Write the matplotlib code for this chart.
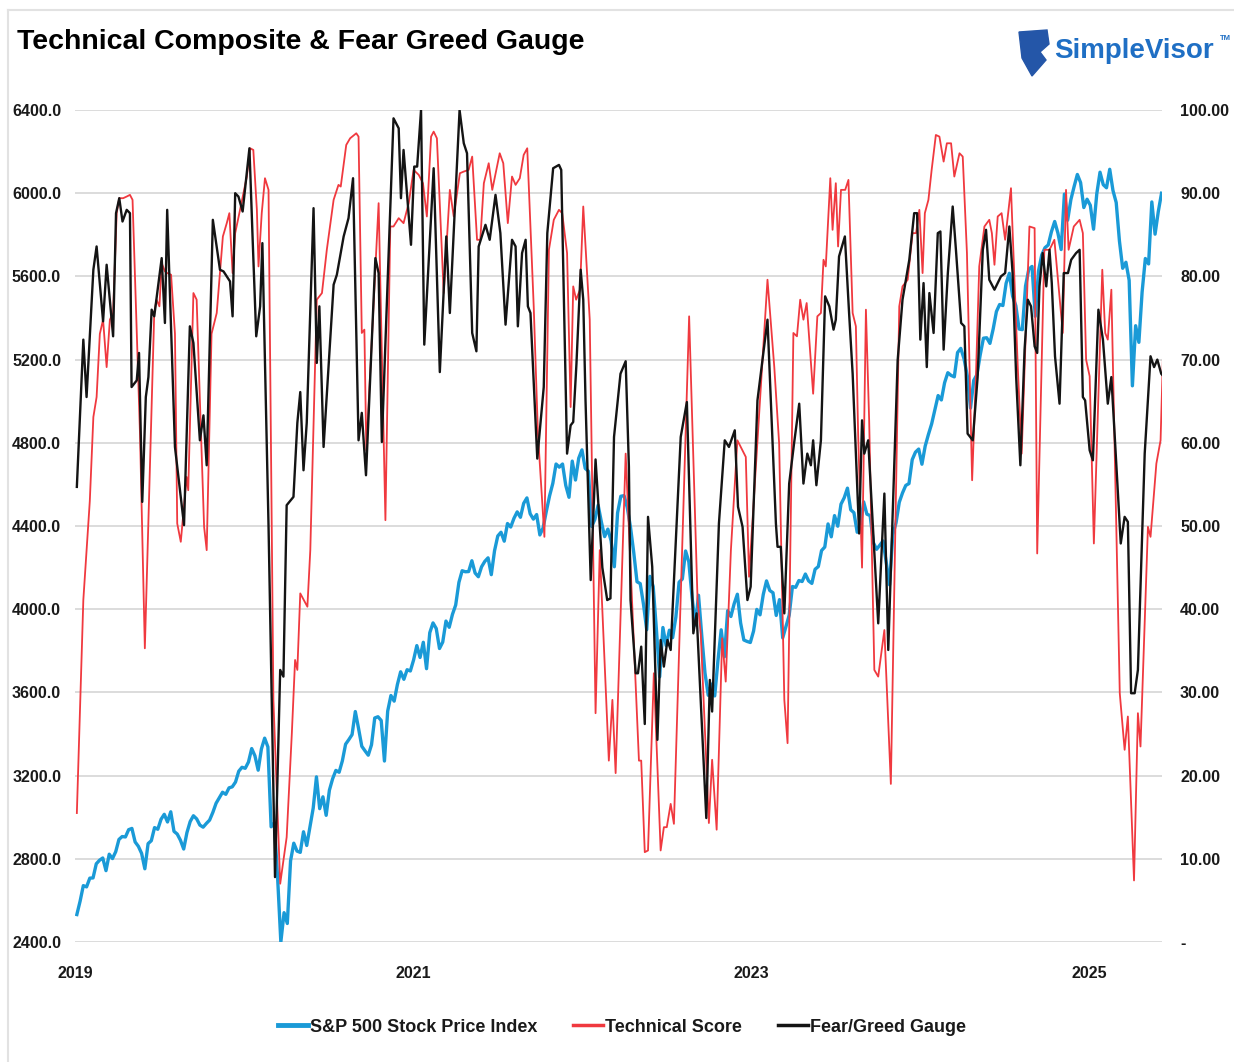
import matplotlib
matplotlib.use("Agg")
import matplotlib.pyplot as plt
from matplotlib.lines import Line2D
from matplotlib.patches import Polygon
import numpy as np
import pandas as pd

plt.rcParams["font.family"] = ["Liberation Sans", "DejaVu Sans"]

# S&P 500 weekly closes, first week ending 2019-01-04
spx = [
    2532, 2596, 2671, 2665, 2707, 2708, 2776, 2793, 2804, 2743, 2822, 2801, 2834,
    2893, 2907, 2905, 2940, 2946, 2881, 2860, 2826, 2752, 2873, 2887, 2950, 2942,
    2990, 3014, 2977, 3026, 2932, 2919, 2889, 2847, 2926, 2979, 3007, 2992, 2962,
    2952, 2970, 2986, 3023, 3067, 3093, 3120, 3110, 3141, 3146, 3169, 3221, 3240,
    # 2020
    3235, 3265, 3330, 3295, 3226, 3328, 3380, 3338, 2954, 2972, 2711, 2400, 2541,
    2489, 2790, 2875, 2837, 2831, 2930, 2864, 2955, 3044, 3194, 3041, 3098, 3009,
    3130, 3185, 3225, 3216, 3271, 3351, 3373, 3397, 3508, 3427, 3341, 3319, 3298,
    3348, 3477, 3483, 3465, 3270, 3510, 3585, 3558, 3638, 3699, 3663, 3709, 3703, 3756,
    # 2021
    3825, 3768, 3841, 3714, 3887, 3934, 3907, 3811, 3842, 3943, 3913, 3975, 4020,
    4129, 4185, 4180, 4181, 4233, 4174, 4156, 4204, 4230, 4247, 4166, 4281, 4352,
    4370, 4327, 4412, 4395, 4437, 4468, 4442, 4509, 4535, 4459, 4433, 4455, 4357,
    4391, 4471, 4545, 4605, 4698, 4683, 4698, 4595, 4538, 4712, 4621, 4726, 4766,
    # 2022
    4677, 4663, 4398, 4432, 4500, 4419, 4349, 4385, 4329, 4204, 4463, 4543, 4546,
    4488, 4393, 4272, 4132, 4123, 4024, 3901, 4158, 4109, 3901, 3675, 3912, 3825,
    3899, 3863, 3962, 4130, 4145, 4280, 4228, 4058, 3924, 4067, 3873, 3693, 3586,
    3640, 3583, 3753, 3901, 3771, 3993, 3965, 4026, 4072, 3934, 3852, 3845, 3840,
    # 2023
    3895, 3999, 3973, 4071, 4136, 4090, 4079, 3970, 4046, 3862, 3917, 3971, 4109,
    4105, 4138, 4133, 4169, 4136, 4124, 4192, 4205, 4282, 4299, 4410, 4348, 4450,
    4399, 4505, 4536, 4582, 4478, 4464, 4370, 4406, 4516, 4457, 4450, 4320, 4288,
    4308, 4328, 4224, 4117, 4358, 4415, 4514, 4559, 4595, 4604, 4719, 4755, 4770,
    # 2024
    4697, 4784, 4840, 4891, 4959, 5027, 5006, 5089, 5137, 5124, 5117, 5234, 5254,
    5204, 5123, 4967, 5100, 5128, 5223, 5303, 5305, 5278, 5347, 5431, 5465, 5460,
    5567, 5615, 5505, 5459, 5347, 5344, 5554, 5634, 5648, 5408, 5626, 5703, 5738,
    5751, 5815, 5864, 5808, 5729, 5996, 5870, 5969, 6032, 6090, 6051, 5931, 5971,
    # 2025
    5942, 5827, 5997, 6101, 6041, 6026, 6115, 6013, 5955, 5770, 5639, 5668, 5581,
    5074, 5363, 5283, 5525, 5686, 5660, 5958, 5803, 5912, 6000,
]

# Technical Score: (weeks since 2019-01-04, score)
tech_points = [
    (0, 15.5), (2.0, 41.1), (4.0, 53.0), (5.1, 63.1), (6.1, 65.5), (7.1, 73.1), (8.1, 74.8),
    (9.2, 69.1), (10.2, 74.8), (11.2, 75.6), (12.3, 87.6), (13.1, 89.4), (14.3, 89.4),
    (15.4, 89.6), (16.4, 89.8), (17.2, 89.2), (19.5, 61.1), (21.0, 35.3), (23.9, 75.6),
    (24.6, 77.2), (25.5, 76.4), (26.2, 81.6), (27.2, 80.6), (27.9, 80.4), (29.1, 80.2),
    (30.3, 73.1), (31.0, 50.3), (32.1, 48.1), (33.9, 55.9), (34.4, 54.3), (36.0, 78.0),
    (37.0, 77.2), (38.0, 65.1), (39.3, 49.9), (40.1, 47.1), (41.6, 73.1), (43.2, 75.6),
    (45.1, 84.8), (46.3, 86.4), (47.1, 87.6), (48.1, 80.4), (48.9, 85.2), (50.4, 88.0),
    (52.5, 92.0), (53.5, 95.4), (54.5, 95.2), (55.6, 88.0), (56.1, 81.2), (57.1, 87.6),
    (58.1, 91.8), (59.2, 90.4), (60.7, 29.1), (62.8, 7.0), (64.8, 12.6), (66.4, 25.1),
    (67.4, 33.9), (68.1, 32.7), (69.0, 41.9), (71.2, 40.3), (72.1, 47.1), (74.1, 77.2),
    (75.7, 78.0), (77.2, 83.2), (79.3, 89.2), (80.8, 91.0), (81.5, 90.8), (83.2, 95.8),
    (84.4, 96.6), (86.3, 97.2), (87.0, 96.8), (88.0, 73.2), (88.8, 73.6), (89.4, 59.1),
    (93.2, 88.8), (95.3, 50.7), (96.8, 86.0), (97.8, 86.0), (99.4, 87.0), (100.9, 86.4),
    (102.5, 88.8), (104.0, 92.8), (105.6, 92.2), (106.9, 91.2), (108.1, 87.2), (109.4, 96.8),
    (110.2, 97.4), (111.2, 96.6), (113.3, 78.0), (115.2, 90.4), (116.4, 87.2), (118.3, 92.4),
    (119.5, 92.6), (121.0, 92.8), (122.1, 94.4), (123.6, 84.4), (124.6, 84.4), (125.7, 91.2),
    (127.2, 93.6), (128.3, 90.4), (130.6, 94.8), (131.7, 93.6), (133.1, 86.4), (134.4, 92.0),
    (135.5, 91.0), (136.8, 91.8), (138.0, 94.6), (139.1, 95.4), (141.1, 76.4), (142.4, 61.1),
    (144.4, 48.7), (145.8, 83.2), (147.3, 86.8), (148.9, 88.0), (149.9, 87.6), (151.4, 82.8),
    (152.5, 64.3), (153.3, 78.8), (154.2, 77.2), (155.4, 78.4), (156.4, 88.4), (158.4, 74.8),
    (160.2, 27.5), (161.5, 47.1), (164.3, 21.8), (165.4, 29.1), (166.4, 20.3), (169.5, 58.7),
    (173.6, 21.8), (174.3, 21.8), (175.4, 10.8), (176.4, 11.0), (178.2, 32.3), (180.3, 11.0),
    (181.3, 13.8), (182.2, 13.8), (183.4, 16.6), (184.4, 14.2), (189.1, 75.2), (191.7, 41.1),
    (192.7, 37.0), (195.2, 14.3), (196.2, 21.9), (197.6, 13.5), (199.3, 36.5), (200.4, 31.3),
    (202.0, 47.1), (204.0, 60.3), (206.6, 58.3), (207.6, 43.9), (213.3, 79.6), (215.4, 69.1),
    (216.9, 59.9), (218.5, 29.1), (219.5, 23.9), (221.3, 73.2), (222.4, 72.8), (223.4, 77.2),
    (224.4, 74.8), (225.4, 76.8), (227.4, 65.9), (228.7, 75.2), (229.8, 75.6), (230.6, 82.0),
    (231.3, 81.2), (232.7, 91.8), (233.4, 85.6), (234.4, 91.2), (235.1, 83.6), (236.0, 90.4),
    (237.3, 90.4), (238.3, 91.6), (239.6, 75.6), (240.6, 74.0), (241.3, 61.0), (242.5, 45.0),
    (243.7, 76.0), (244.7, 62.7), (246.3, 32.7), (247.5, 31.9), (249.4, 37.5), (251.4, 19.0),
    (254.0, 76.4), (255.0, 78.8), (256.6, 79.6), (258.1, 85.2), (259.2, 85.2), (260.2, 88.0),
    (261.2, 80.4), (261.9, 87.6), (263.0, 89.2), (264.0, 92.8), (265.3, 97.0), (266.4, 96.8),
    (267.7, 93.8), (268.7, 96.0), (270.0, 96.0), (271.0, 92.0), (272.6, 94.8), (273.6, 94.4),
    (274.9, 82.8), (276.5, 55.5), (277.7, 68.3), (278.7, 81.2), (280.3, 86.0), (281.8, 86.8),
    (282.6, 85.2), (283.4, 81.4), (284.4, 87.2), (285.6, 87.6), (286.7, 84.4), (288.5, 90.6),
    (290.6, 69.1), (291.8, 58.7), (294.2, 86.0), (295.8, 85.8), (296.6, 46.7), (298.8, 83.2),
    (300.4, 83.2), (301.9, 84.4), (304.5, 73.2), (305.5, 90.4), (306.3, 83.2), (307.9, 86.0),
    (309.7, 86.8), (310.7, 85.2), (311.7, 70.0), (312.8, 68.0), (314.1, 47.9), (316.7, 80.8),
    (317.6, 73.2), (318.4, 72.4), (319.5, 78.4), (322.1, 29.9), (323.6, 23.1), (324.6, 27.1),
    (326.5, 7.4), (327.7, 27.5), (328.5, 23.5), (330.8, 49.9), (331.6, 48.7), (333.4, 57.5),
    (334.7, 60.3), (335.8, 75.2),
]

# Fear/Greed Gauge: (weeks since 2019-01-04, gauge)
fg_points = [
    (0, 54.7), (2.0, 72.4), (3.0, 65.5), (5.1, 80.8), (6.1, 83.6), (8.1, 74.6), (9.2, 81.4),
    (11.2, 72.8), (12.1, 87.6), (13.1, 89.4), (14.1, 86.6), (15.4, 88.0), (16.4, 87.6),
    (16.9, 66.7), (18.5, 67.5), (19.2, 70.8), (20.2, 52.9), (21.3, 65.5), (22.1, 67.9),
    (23.1, 76.0), (23.9, 75.2), (26.2, 82.2), (27.2, 74.4), (27.9, 88.0), (30.3, 59.5),
    (33.1, 50.1), (34.9, 74.0), (36.0, 72.0), (38.0, 60.3), (39.1, 63.3), (40.1, 57.3),
    (42.0, 86.8), (44.2, 80.8), (45.3, 80.6), (47.3, 79.4), (48.1, 75.2), (48.9, 90.0),
    (49.9, 89.6), (51.2, 87.8), (53.3, 95.4), (54.3, 84.4), (55.4, 72.8), (56.6, 76.4),
    (57.3, 84.0), (59.2, 50.0), (61.2, 7.8), (62.8, 32.7), (63.8, 31.9), (64.8, 52.5),
    (66.9, 53.5), (68.1, 62.4), (69.0, 66.1), (70.0, 56.7), (71.0, 62.4), (73.1, 88.2),
    (74.1, 69.6), (74.9, 76.4), (76.2, 59.5), (78.0, 70.7), (79.3, 79.0), (80.3, 80.2),
    (82.4, 84.8), (83.9, 87.0), (85.3, 91.8), (87.0, 60.3), (88.0, 63.6), (89.3, 56.1),
    (92.2, 82.2), (93.2, 80.4), (94.2, 60.1), (97.8, 99.0), (99.4, 97.8), (100.1, 89.4),
    (100.9, 95.2), (103.2, 83.8), (104.2, 93.2), (105.1, 93.2), (106.3, 100.0), (107.3, 71.8),
    (110.2, 93.0), (112.1, 68.5), (114.1, 84.8), (115.2, 75.6), (118.2, 100.0), (119.5, 96.0),
    (120.5, 94.8), (122.1, 73.2), (123.4, 71.0), (124.1, 83.6), (126.2, 86.2), (127.5, 84.4),
    (129.3, 89.8), (130.8, 85.2), (132.4, 74.2), (134.4, 84.4), (135.5, 83.6), (136.2, 74.0),
    (137.5, 82.8), (138.6, 84.4), (139.3, 76.4), (140.1, 75.6), (142.2, 58.1), (144.2, 66.7),
    (145.3, 85.2), (147.1, 93.0), (148.9, 93.4), (149.6, 92.8), (151.4, 58.7), (152.5, 62.1),
    (153.3, 62.5), (154.3, 69.5), (155.6, 80.8), (156.4, 77.2), (157.1, 65.1), (158.7, 43.5),
    (160.2, 58.0), (162.3, 45.0), (163.8, 41.1), (164.8, 41.3), (165.9, 60.7), (167.9, 68.3),
    (169.5, 69.8), (170.5, 57.1), (171.0, 41.1), (172.6, 32.3), (173.3, 32.3), (174.3, 35.5),
    (175.4, 26.2), (176.4, 51.1), (177.7, 45.1), (179.3, 24.3), (180.3, 36.3), (181.3, 33.1),
    (182.4, 36.3), (183.4, 35.1), (186.5, 60.7), (188.4, 64.9), (190.4, 37.1), (191.4, 39.5),
    (194.4, 14.9), (195.5, 31.5), (196.2, 27.7), (198.3, 50.3), (200.1, 60.3), (201.4, 59.5),
    (203.2, 61.5), (204.2, 52.3), (205.6, 49.9), (207.1, 41.1), (208.1, 42.7), (210.2, 65.1),
    (213.3, 74.8), (215.9, 50.3), (216.4, 47.5), (217.4, 47.5), (218.5, 39.5), (220.0, 55.1),
    (221.5, 59.9), (223.1, 64.7), (224.4, 55.1), (225.6, 58.7), (226.7, 57.3), (227.4, 60.3),
    (228.4, 54.9), (229.8, 60.3), (231.1, 77.6), (232.4, 76.4), (233.7, 73.6), (234.4, 74.8),
    (235.4, 82.4), (237.2, 84.8), (238.5, 75.6), (239.6, 68.3), (241.6, 49.1), (242.5, 62.7),
    (243.2, 58.7), (244.4, 60.3), (247.5, 38.3), (249.4, 53.9), (250.6, 35.1), (253.5, 69.9),
    (255.0, 77.2), (257.1, 82.0), (258.6, 87.6), (259.5, 87.6), (260.5, 72.4), (261.5, 79.2),
    (262.5, 69.1), (263.3, 78.0), (264.6, 73.2), (265.9, 85.2), (266.7, 85.4), (267.7, 71.2),
    (269.0, 80.4), (270.5, 88.4), (271.5, 83.2), (273.1, 74.4), (274.1, 74.0), (275.1, 61.1),
    (276.7, 60.3), (278.2, 67.9), (279.8, 83.2), (280.8, 85.6), (281.8, 79.6), (283.4, 78.4),
    (285.4, 80.0), (286.7, 80.4), (288.0, 86.0), (289.0, 80.4), (290.1, 67.9), (291.4, 57.3),
    (292.7, 71.2), (293.7, 77.2), (294.7, 76.4), (295.8, 71.6), (296.6, 70.8), (297.3, 78.8),
    (298.3, 82.8), (299.4, 78.8), (300.4, 83.2), (301.1, 79.2), (302.1, 70.4), (303.5, 64.7),
    (304.8, 80.4), (306.1, 80.4), (307.1, 82.0), (308.6, 82.8), (309.7, 83.2), (310.7, 65.5),
    (311.4, 65.1), (312.8, 59.1), (313.8, 57.9), (315.5, 76.0), (316.9, 72.4), (318.4, 64.7),
    (319.5, 67.9), (320.5, 61.1), (322.4, 47.9), (323.6, 51.1), (324.6, 50.5), (325.6, 29.9),
    (326.7, 29.9), (327.7, 32.7), (329.8, 58.7), (331.6, 70.4), (332.7, 69.1), (333.7, 70.0),
    (334.9, 68.3), (335.8, 67.9),
]

year_ticks = ["2019", "2021", "2023", "2025"]
left_ticks = [2400, 2800, 3200, 3600, 4000, 4400, 4800, 5200, 5600, 6000, 6400]
right_ticks = [0, 10, 20, 30, 40, 50, 60, 70, 80, 90, 100]

BLUE = "#1a9ad7"
RED = "#f0393f"
BLACK = "#141414"
GRID = "#dcdcdc"
TEXT = "#1a1a1a"

start = pd.Timestamp("2019-01-04")


def week_dates(weeks):
    return start + pd.to_timedelta(np.asarray(weeks) * 7, unit="D")


spx_dates = pd.date_range(start, periods=len(spx), freq="7D")
tech_w, tech = zip(*tech_points)
fg_w, fg = zip(*fg_points)

W, H = 1234, 1062
fig = plt.figure(figsize=(W / 100, H / 100), dpi=100)
fig.patch.set_facecolor("white")

L, R, T, B = 75, 1162, 110, 942
ax = fig.add_axes([L / W, 1 - B / H, (R - L) / W, (B - T) / H])
ax2 = ax.twinx()

ax.plot(spx_dates, spx, color=BLUE, lw=2.4, solid_joinstyle="round")
ax2.plot(week_dates(tech_w), tech, color=RED, lw=1.3)
ax2.plot(week_dates(fg_w), fg, color=BLACK, lw=1.7)

ax.set_xlim(pd.Timestamp("2018-12-31"), pd.Timestamp("2025-06-07"))
ax.set_ylim(2400, 6400)
ax2.set_ylim(0, 100)

ax.set_yticks(left_ticks)
ax.set_yticklabels([f"{v:.1f}" for v in left_ticks])
ax2.set_yticks(right_ticks)
ax2.set_yticklabels(["-" if v == 0 else f"{v:.2f}" for v in right_ticks])
ax.set_xticks([pd.Timestamp(f"{y}-01-01") for y in year_ticks])
ax.set_xticklabels(year_ticks)

ax.yaxis.grid(True, color=GRID, lw=1.4)
ax.set_axisbelow(True)
for a in (ax, ax2):
    for s in a.spines.values():
        s.set_visible(False)
ax.tick_params(axis="both", length=0, labelsize=11.5, colors=TEXT)
ax.tick_params(axis="y", pad=10)
ax.tick_params(axis="x", pad=17)
ax2.tick_params(axis="y", length=0, labelsize=11.5, colors=TEXT, pad=13)
for lab in ax.get_xticklabels() + ax.get_yticklabels() + ax2.get_yticklabels():
    lab.set_fontweight("bold")

# title and logo
fig.text(17 / W, 1 - 42 / H, "Technical Composite & Fear Greed Gauge",
         fontsize=20.5, fontweight="bold", color="black", va="center", ha="left")
fig.text(1054 / W, 1 - 51 / H, "SimpleVisor", fontsize=20, fontweight="bold",
         color="#1f6fc4", va="center", ha="left")
fig.text(1220 / W, 1 - 38 / H, "TM", fontsize=5.5, fontweight="bold",
         color="#1f6fc4", va="center", ha="left")
shield = [(1019, 32), (1047, 30), (1049, 44), (1040, 52), (1046, 60), (1032, 76), (1022, 58)]
fig.patches.append(Polygon([(x / W, 1 - y / H) for x, y in shield], closed=True,
                           transform=fig.transFigure, color="#2456a8"))

# light frame of the chart area
fig.add_artist(Line2D([8 / W, 1], [1 - 10 / H] * 2, color="#e2e2e2", lw=1.5))
fig.add_artist(Line2D([8 / W] * 2, [1 - 10 / H, 0], color="#e2e2e2", lw=1.5))

handles = [Line2D([], [], color=BLUE, lw=3.5),
           Line2D([], [], color=RED, lw=2.5),
           Line2D([], [], color=BLACK, lw=2.5)]
leg = fig.legend(handles, ["S&P 500 Stock Price Index", "Technical Score", "Fear/Greed Gauge"],
                 loc="center", bbox_to_anchor=(622 / W, 1 - 1027 / H), ncol=3, frameon=False,
                 handlelength=1.65, handletextpad=0.12, columnspacing=2.0,
                 prop={"size": 13, "weight": "bold"})
for t in leg.get_texts():
    t.set_color(TEXT)

fig.savefig("out.png", dpi=100, facecolor="white")
